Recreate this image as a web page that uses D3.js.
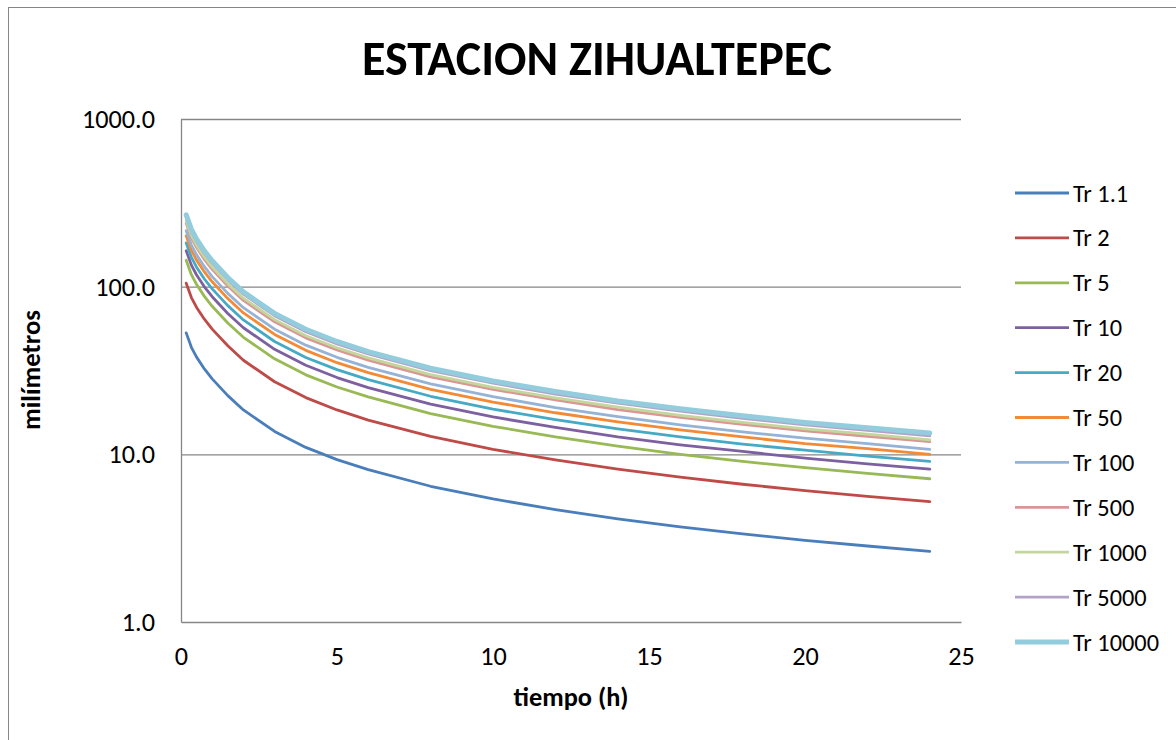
<!DOCTYPE html>
<html>
<head>
<meta charset="utf-8">
<script src="https://cdn.jsdelivr.net/npm/d3@7"></script>
<style>
  html, body { margin: 0; padding: 0; background: #ffffff; }
  svg { display: block; }
  text { font-family: Calibri, Carlito, Lato, "Open Sans", sans-serif; fill: #000; }
</style>
</head>
<body>
<svg id="chart" width="1176" height="740"></svg>
<script>
// ---- data ----
const chartTitle = "ESTACION ZIHUALTEPEC";
const xAxisTitle = "tiempo (h)";
const yAxisTitle = "milímetros";
const xTicks = [0, 5, 10, 15, 20, 25];
const yTicks = [1, 10, 100, 1000];
const durations = [0.167, 0.333, 0.5, 0.75, 1, 1.5, 2, 3, 4, 5, 6, 8, 10, 12, 14, 16, 18, 20, 22, 24];
const seriesNames = ["Tr 1.1", "Tr 2", "Tr 5", "Tr 10", "Tr 20", "Tr 50", "Tr 100", "Tr 500", "Tr 1000", "Tr 5000", "Tr 10000"];
const tr1_1   = [53.0, 43.5, 38.0, 32.3, 28.2, 22.4, 18.4, 13.7, 11.0, 9.3, 8.1, 6.45, 5.42, 4.68, 4.12, 3.69, 3.35, 3.07, 2.84, 2.64];
const tr2     = [104.9, 86.1, 75.2, 64.0, 55.8, 44.4, 36.4, 27.1, 21.8, 18.4, 16.0, 12.8, 10.7, 9.27, 8.16, 7.31, 6.63, 6.08, 5.62, 5.23];
const tr5     = [143.6, 117.9, 103.0, 87.5, 76.4, 60.7, 49.9, 37.1, 29.8, 25.2, 22.0, 17.5, 14.7, 12.7, 11.2, 10.0, 9.08, 8.32, 7.70, 7.15];
const tr10    = [163.8, 134.4, 117.4, 99.8, 87.1, 69.2, 56.9, 42.3, 34.0, 28.7, 25.0, 19.9, 16.7, 14.5, 12.7, 11.4, 10.4, 9.49, 8.78, 8.16];
const tr20    = [182.3, 149.6, 130.7, 111.1, 97.0, 77.1, 63.3, 47.1, 37.8, 32.0, 27.9, 22.2, 18.6, 16.1, 14.2, 12.7, 11.5, 10.6, 9.77, 9.08];
const tr50    = [200.9, 164.9, 144.0, 122.4, 106.9, 84.9, 69.7, 51.9, 41.7, 35.2, 30.7, 24.4, 20.5, 17.7, 15.6, 14.0, 12.7, 11.6, 10.8, 10.0];
const tr100   = [215.7, 177.0, 154.7, 131.5, 114.8, 91.2, 74.9, 55.8, 44.8, 37.9, 33.0, 26.3, 22.1, 19.0, 16.8, 15.0, 13.6, 12.5, 11.6, 10.7];
const tr500   = [238.5, 195.8, 171.0, 145.4, 126.9, 100.8, 82.8, 61.7, 49.5, 41.9, 36.5, 29.0, 24.4, 21.1, 18.5, 16.6, 15.1, 13.8, 12.8, 11.9];
const tr1000  = [245.9, 201.8, 176.3, 149.9, 130.8, 103.9, 85.4, 63.6, 51.0, 43.2, 37.6, 29.9, 25.1, 21.7, 19.1, 17.1, 15.5, 14.2, 13.2, 12.2];
const tr5000  = [259.7, 213.2, 186.2, 158.3, 138.2, 109.8, 90.2, 67.1, 53.9, 45.6, 39.7, 31.6, 26.6, 22.9, 20.2, 18.1, 16.4, 15.0, 13.9, 12.9];
const tr10000 = [268.2, 220.1, 192.3, 163.4, 142.7, 113.3, 93.1, 69.3, 55.7, 47.1, 41.0, 32.6, 27.4, 23.7, 20.8, 18.7, 17.0, 15.5, 14.4, 13.4];
const seriesValues = [tr1_1, tr2, tr5, tr10, tr20, tr50, tr100, tr500, tr1000, tr5000, tr10000];
const seriesColors = ["#4A7EBB", "#BE4B48", "#98B954", "#7D60A0", "#46AAC5", "#F38A35", "#95B3D7", "#D99694", "#C3D69B", "#B3A2C7", "#93CDDD"];

// ---- layout ----
const svg = d3.select("#chart");
const plot = { left: 181, right: 961, top: 119, bottom: 622 };
const gridColor = "#868686";

// outer chart frame (continues past the right and bottom edges)
svg.append("rect")
  .attr("x", 8.5).attr("y", 7.5).attr("width", 1300).attr("height", 900)
  .attr("fill", "#ffffff").attr("stroke", gridColor).attr("stroke-width", 1);

const x = d3.scaleLinear().domain([0, 25]).range([plot.left, plot.right]);
const y = d3.scaleLog().domain([1, 1000]).range([plot.bottom, plot.top]);

function fitText(sel, targetWidth) {
  const node = sel.node();
  const fs = parseFloat(sel.attr("font-size"));
  const w = node.getComputedTextLength();
  const nfs = fs * targetWidth / w;
  sel.attr("font-size", nfs);
  return nfs;
}

// gridlines
const grid = svg.append("g")
  .attr("transform", `translate(${plot.left},0)`)
  .call(d3.axisLeft(y).tickValues(yTicks.slice(1)).tickSize(-(plot.right - plot.left)).tickFormat(""));
grid.select(".domain").remove();
grid.selectAll("line").attr("stroke", gridColor).attr("stroke-width", 1.3);

// axes
const yAxis = svg.append("g")
  .attr("transform", `translate(${plot.left},0)`)
  .call(d3.axisLeft(y).tickValues(yTicks).tickSize(0).tickPadding(26).tickFormat(d3.format(".1f")));
yAxis.select(".domain").attr("stroke", gridColor).attr("stroke-width", 1.3);
yAxis.selectAll("text").attr("font-size", 20).attr("font-family", "Calibri, Carlito, Lato, 'Open Sans', sans-serif").attr("fill", "#000");
const tickFs = fitText(yAxis.selectAll("text").filter(d => d === 1000), 73);
yAxis.selectAll("text").attr("font-size", tickFs);

const xAxis = svg.append("g")
  .attr("transform", `translate(0,${plot.bottom})`)
  .call(d3.axisBottom(x).tickValues(xTicks).tickSize(0).tickPadding(24).tickFormat(d3.format("d")));
xAxis.select(".domain").attr("stroke", gridColor).attr("stroke-width", 1.3);
xAxis.selectAll("text").attr("font-size", tickFs).attr("font-family", "Calibri, Carlito, Lato, 'Open Sans', sans-serif").attr("fill", "#000");

// series lines
const line = d3.line().x((d, i) => x(durations[i])).y(d => y(d));
seriesValues.forEach((vals, k) => {
  svg.append("path")
    .datum(vals)
    .attr("d", line)
    .attr("fill", "none")
    .attr("stroke", seriesColors[k])
    .attr("stroke-width", k === seriesValues.length - 1 ? 5 : 2.8)
    .attr("stroke-linejoin", "round")
    .attr("stroke-linecap", "round");
});

// title
const t = svg.append("text")
  .attr("x", 597).attr("y", 75).attr("text-anchor", "middle")
  .attr("font-weight", "bold").attr("font-size", 40)
  .text(chartTitle);
fitText(t, 470);

// axis titles
const xt = svg.append("text")
  .attr("x", 571).attr("y", 706).attr("text-anchor", "middle")
  .attr("font-weight", "bold").attr("font-size", 20)
  .text(xAxisTitle);
fitText(xt, 115);

const yt = svg.append("text")
  .attr("transform", "translate(40,370) rotate(-90)")
  .attr("text-anchor", "middle")
  .attr("font-weight", "bold").attr("font-size", 20)
  .text(yAxisTitle);
fitText(yt, 120);

// legend
const legend = svg.append("g");
let legFs = null;
seriesNames.forEach((name, k) => {
  const cy = 193 + k * 44.9;
  legend.append("line")
    .attr("x1", 1015).attr("x2", 1069).attr("y1", cy).attr("y2", cy)
    .attr("stroke", seriesColors[k])
    .attr("stroke-width", k === seriesNames.length - 1 ? 5 : 2.8);
  legend.append("text")
    .attr("class", "legtext")
    .attr("x", 1073).attr("y", cy).attr("dy", "0.35em")
    .attr("font-size", 20)
    .text(name);
});
legFs = fitText(legend.selectAll(".legtext").filter((d, i) => i === seriesNames.length - 1), 86);
legend.selectAll(".legtext").attr("font-size", legFs);
</script>
</body>
</html>
